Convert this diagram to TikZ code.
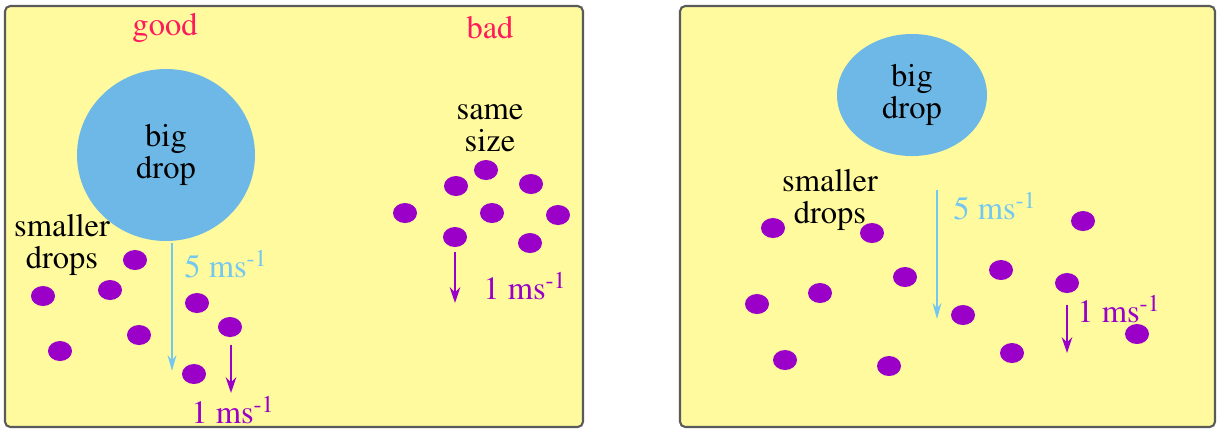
\documentclass[tikz,border=0pt]{standalone}
\usepackage[T1]{fontenc}
\usepackage{mathptmx}
\usetikzlibrary{positioning,arrows.meta,shapes.geometric}
\definecolor{cPanel}{HTML}{FFFA9E}
\definecolor{cFrame}{HTML}{5A5A5A}
\definecolor{cBig}{HTML}{6DB8E6}
\definecolor{cFast}{HTML}{74C8F0}
\definecolor{cDot}{HTML}{9A00C8}
\definecolor{cGood}{HTML}{FF1A5C}
\newlength{\pxu}
\setlength{\pxu}{0.02cm}
\tikzset{
  panel/.style={draw=cFrame, line width=1.2pt, fill=cPanel, rounded corners=3pt},
  bigdrop/.style={ellipse, fill=cBig, inner sep=0pt, align=center,
                  font=\rmfamily\fontsize{18.5}{18}\selectfont},
  dropdot/.style={ellipse, fill=cDot, minimum width=24\pxu, minimum height=20\pxu, inner sep=0pt},
  txt/.style={align=center, inner sep=1pt, font=\rmfamily\fontsize{18.5}{18}\selectfont},
  head/.style={txt, text=cGood},
  fastlbl/.style={txt, text=cFast},
  slowlbl/.style={txt, text=cDot},
  arfast/.style={-{Stealth[length=9pt, width=5pt]}, line width=1.3pt, cFast},
  arslow/.style={-{Stealth[length=9pt, width=6pt]}, line width=1.5pt, cDot},
}

\begin{document}
\begin{tikzpicture}[x=0.02cm, y=-0.02cm]
  \useasboundingbox (0,0) rectangle (1220,434);
  % the two panels
  \draw[panel] (5,6) rectangle (583,427);
  \draw[panel] (680,6) rectangle (1215,427);

  % ---- left panel: good
  \node[head] (good) at (165,28) {good};
  \node[head] (bad) at (490,28) {bad};
  \node[bigdrop, minimum width=178\pxu, minimum height=172\pxu] (bigL) at (166,155) {big\\drop};
  \node[txt] (smallL) at (62,245) {smaller\\drops};
  \foreach \x/\y [count=\i] in {43/296, 110/290, 135/260, 60/351, 139/335, 197/303, 230/327, 194/374}
    \node[dropdot] (dL\i) at (\x,\y) {};
  \coordinate (fastLa) at (172,243);
  \coordinate (fastLb) at (172,371);
  \draw[arfast] (fastLa) -- (fastLb);
  \node[fastlbl] (fastLlbl) at (226,264) {5 ms\textsuperscript{-1}};
  \coordinate (slowLa) at (231,345);
  \coordinate (slowLb) at (231,393);
  \draw[arslow] (slowLa) -- (slowLb);
  \node[slowlbl] (slowLlbl) at (233,410) {1 ms\textsuperscript{-1}};

  % ---- left panel: bad
  \node[txt] (same) at (490,128) {same\\size};
  \foreach \x/\y [count=\i] in {486/170, 456/186, 531/184, 405/213, 492/213, 558/215, 455/237, 530/243}
    \node[dropdot] (dB\i) at (\x,\y) {};
  \coordinate (slowBa) at (455,252);
  \coordinate (slowBb) at (455,303);
  \draw[arslow] (slowBa) -- (slowBb);
  \node[slowlbl] (slowBlbl) at (525,286) {1 ms\textsuperscript{-1}};

  % ---- right panel
  \node[bigdrop, minimum width=150\pxu, minimum height=122\pxu] (bigR) at (912,95) {big\\drop};
  \node[txt] (smallR) at (830,200) {smaller\\drops};
  \foreach \x/\y [count=\i] in {773/228, 872/233, 1083/221, 905/277, 1001/270, 1067/283, 757/304, 820/293, 963/315, 785/360, 889/366, 1012/353, 1137/334}
    \node[dropdot] (dR\i) at (\x,\y) {};
  \coordinate (fastRa) at (937,190);
  \coordinate (fastRb) at (937,319);
  \draw[arfast] (fastRa) -- (fastRb);
  \node[fastlbl] (fastRlbl) at (995,206) {5 ms\textsuperscript{-1}};
  \coordinate (slowRa) at (1067,305);
  \coordinate (slowRb) at (1067,353);
  \draw[arslow] (slowRa) -- (slowRb);
  \node[slowlbl] (slowRlbl) at (1119,309) {1 ms\textsuperscript{-1}};
\end{tikzpicture}
\end{document}
